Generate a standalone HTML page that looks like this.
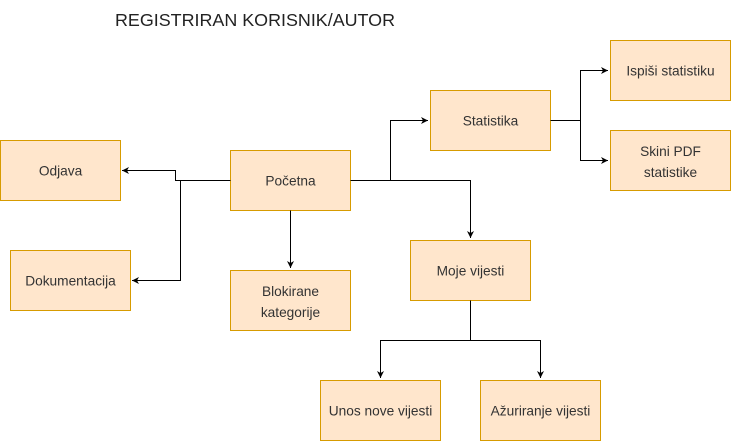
<html><body style="margin:0;background:#fff">
<svg width="731" height="441" xmlns="http://www.w3.org/2000/svg" font-family="Liberation Sans, sans-serif">
<defs><marker id="a" markerWidth="8" markerHeight="8" refX="7" refY="4" orient="auto" markerUnits="userSpaceOnUse"><path d="M0,0.5 L7,4 L0,7.5 L2,4z" fill="#000"/></marker></defs>
<text x="115" y="26" font-size="17.9" fill="#222">REGISTRIRAN KORISNIK/AUTOR</text>
<g fill="#ffe6cc" stroke="#d79b00">
<rect x="0.5" y="140.5" width="120" height="60"/>
<rect x="10.5" y="250.5" width="120" height="60"/>
<rect x="230.5" y="150.5" width="120" height="60"/>
<rect x="230.5" y="270.5" width="120" height="60"/>
<rect x="430.5" y="90.5" width="120" height="60"/>
<rect x="410.5" y="240.5" width="120" height="60"/>
<rect x="610.5" y="40.5" width="120" height="60"/>
<rect x="610.5" y="130.5" width="120" height="60"/>
<rect x="320.5" y="380.5" width="120" height="60"/>
<rect x="480.5" y="380.5" width="120" height="60"/>
</g>
<g fill="none" stroke="#000" stroke-width="1">
<path d="M230.5,180.5 H175.5 V170.5 H122" marker-end="url(#a)"/>
<path d="M180.5,180.5 V280.5 H132" marker-end="url(#a)"/>
<path d="M290.5,210.5 V268" marker-end="url(#a)"/>
<path d="M350.5,180.5 H390.5 V120.5 H428" marker-end="url(#a)"/>
<path d="M390.5,180.5 H470.5 V238" marker-end="url(#a)"/>
<path d="M550.5,120.5 H580.5 V70.5 H608" marker-end="url(#a)"/>
<path d="M580.5,120.5 V160.5 H608" marker-end="url(#a)"/>
<path d="M470.5,300.5 V340.5 H380.5 V378" marker-end="url(#a)"/>
<path d="M470.5,340.5 H540.5 V378" marker-end="url(#a)"/>
</g>
<g font-size="13.7" fill="#333" text-anchor="middle">
<text x="60.5" y="175.5">Odjava</text>
<text x="70.5" y="285.5">Dokumentacija</text>
<text x="290.5" y="185.5">Početna</text>
<text x="290.5" y="296">Blokirane</text>
<text x="290.5" y="317">kategorije</text>
<text x="490.5" y="125.5">Statistika</text>
<text x="470.5" y="275.5">Moje vijesti</text>
<text x="670.5" y="75.5">Ispiši statistiku</text>
<text x="670.5" y="156">Skini PDF</text>
<text x="670.5" y="177">statistike</text>
<text x="380.5" y="415.5">Unos nove vijesti</text>
<text x="540.5" y="415.5">Ažuriranje vijesti</text>
</g>
</svg>
</body></html>
